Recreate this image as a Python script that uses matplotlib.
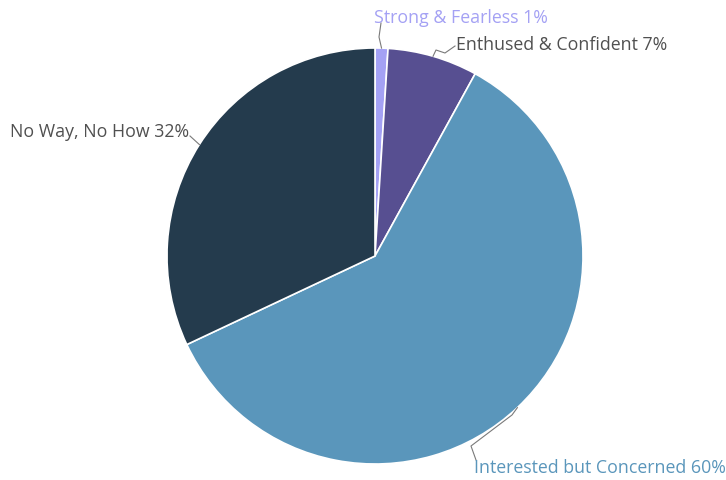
import matplotlib
matplotlib.use("Agg")
import matplotlib.pyplot as plt
import numpy as np

categories = ["Strong & Fearless", "Enthused & Confident", "Interested but Concerned", "No Way, No How"]
values = [1, 7, 60, 32]
colors = ["#a4a1f4", "#574f91", "#5a96bb", "#243b4d"]
label_colors = ["#a4a1f4", "#505050", "#5a96bb", "#505050"]

W, H = 726, 481
fig = plt.figure(figsize=(W / 100, H / 100), dpi=100)
ax = fig.add_axes([0, 0, 1, 1])

cx, cy, r = 375, H - 257, 208
wedges, _ = ax.pie(values, colors=colors, startangle=90, counterclock=False,
                   center=(cx, cy), radius=r, frame=True,
                   wedgeprops=dict(edgecolor="white", linewidth=1.2))
ax.set_xlim(0, W)
ax.set_ylim(0, H)
ax.set_aspect("equal")
ax.axis("off")

font = ["Open Sans", "DejaVu Sans"]
fs = 12.8

cum = np.concatenate([[0], np.cumsum(values)]) / np.sum(values)

def edge_pt(i, frac=0.5):
    f = cum[i] + (cum[i + 1] - cum[i]) * frac
    a = np.deg2rad(90 - 360 * f)
    return cx + r * np.cos(a), cy + r * np.sin(a)

def P(x, y):
    return (x, H - y)

lc = "#7a7a7a"
# Strong & Fearless
x0, y0 = edge_pt(0)
pts = [(x0, y0), P(379, 38), P(381, 24)]
ax.plot(*zip(*pts), color=lc, lw=0.8)
ax.text(*P(374, 18), f"{categories[0]} {values[0]}%", color=label_colors[0],
        fontsize=fs, family=font, ha="left", va="center")

# Enthused & Confident
x0, y0 = edge_pt(1)
pts = [(x0, y0), P(436, 51), P(445, 54), P(455, 47)]
ax.plot(*zip(*pts), color=lc, lw=0.8)
ax.text(*P(456, 45), f"{categories[1]} {values[1]}%", color=label_colors[1],
        fontsize=fs, family=font, ha="left", va="center")

# Interested but Concerned
x0, y0 = edge_pt(2)
pts = [(x0, y0), P(512, 416), P(471, 447), P(476, 461)]
ax.plot(*zip(*pts), color=lc, lw=0.8)
ax.text(*P(474, 468), f"{categories[2]} {values[2]}%", color=label_colors[2],
        fontsize=fs, family=font, ha="left", va="center")

# No Way, No How
x0, y0 = edge_pt(3)
pts = [(x0, y0), P(190, 137)]
ax.plot(*zip(*pts), color=lc, lw=0.8)
ax.text(*P(189, 132), f"{categories[3]} {values[3]}%", color=label_colors[3],
        fontsize=fs, family=font, ha="right", va="center")

fig.savefig("out.png", dpi=100, facecolor="white")
